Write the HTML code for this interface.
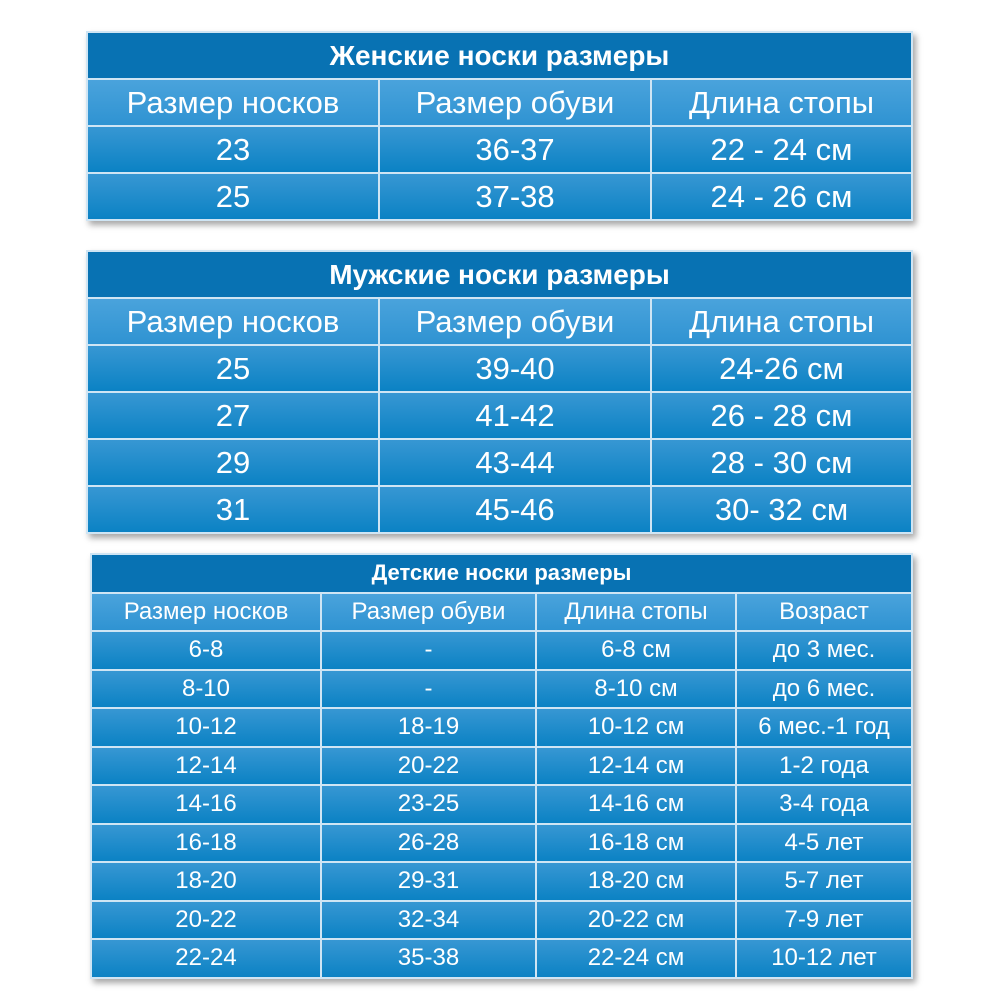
<!DOCTYPE html>
<html><head><meta charset="utf-8"><style>
body{margin:0;width:1000px;height:1000px;background:#fff;position:relative;overflow:hidden;font-family:"Liberation Sans","DejaVu Sans",sans-serif;}
table{position:absolute;border-collapse:collapse;color:#fff;box-shadow:3px 4px 6px rgba(0,0,0,0.35);table-layout:fixed;}
td{border:2px solid #cfe5f4;text-align:center;padding:0;background:linear-gradient(#3797d3,#0b82c4);white-space:nowrap;}
td.t{background:#0872b3;font-weight:bold;}
tr.h td{background:linear-gradient(#4aa3dc,#2f93d2);}
.a td{font-size:31px;height:45px;}
.a td.t{font-size:28px;}
.c td{font-size:24px;height:36.5px;}
.c td.t{font-size:22px;}
</style></head><body>
<table class="a" style="left:86px;top:31px;width:825px;">
<col style="width:292px"><col style="width:272px"><col style="width:261px">
<tr><td class="t" colspan="3">Женские носки размеры</td></tr>
<tr class="h"><td>Размер носков</td><td>Размер обуви</td><td>Длина стопы</td></tr>
<tr><td>23</td><td>36-37</td><td>22 - 24 см</td></tr>
<tr><td>25</td><td>37-38</td><td>24 - 26 см</td></tr>
</table>
<table class="a" style="left:86px;top:250px;width:825px;">
<col style="width:292px"><col style="width:272px"><col style="width:261px">
<tr><td class="t" colspan="3">Мужские носки размеры</td></tr>
<tr class="h"><td>Размер носков</td><td>Размер обуви</td><td>Длина стопы</td></tr>
<tr><td>25</td><td>39-40</td><td>24-26 см</td></tr>
<tr><td>27</td><td>41-42</td><td>26 - 28 см</td></tr>
<tr><td>29</td><td>43-44</td><td>28 - 30 см</td></tr>
<tr><td>31</td><td>45-46</td><td>30- 32 см</td></tr>
</table>
<table class="c" style="left:90px;top:553px;width:821px;">
<col style="width:230px"><col style="width:215px"><col style="width:200px"><col style="width:176px">
<tr><td class="t" colspan="4">Детские носки размеры</td></tr>
<tr class="h"><td>Размер носков</td><td>Размер обуви</td><td>Длина стопы</td><td>Возраст</td></tr>
<tr><td>6-8</td><td>-</td><td>6-8 см</td><td>до 3 мес.</td></tr>
<tr><td>8-10</td><td>-</td><td>8-10 см</td><td>до 6 мес.</td></tr>
<tr><td>10-12</td><td>18-19</td><td>10-12 см</td><td>6 мес.-1 год</td></tr>
<tr><td>12-14</td><td>20-22</td><td>12-14 см</td><td>1-2 года</td></tr>
<tr><td>14-16</td><td>23-25</td><td>14-16 см</td><td>3-4 года</td></tr>
<tr><td>16-18</td><td>26-28</td><td>16-18 см</td><td>4-5 лет</td></tr>
<tr><td>18-20</td><td>29-31</td><td>18-20 см</td><td>5-7 лет</td></tr>
<tr><td>20-22</td><td>32-34</td><td>20-22 см</td><td>7-9 лет</td></tr>
<tr><td>22-24</td><td>35-38</td><td>22-24 см</td><td>10-12 лет</td></tr>
</table>
</body></html>
